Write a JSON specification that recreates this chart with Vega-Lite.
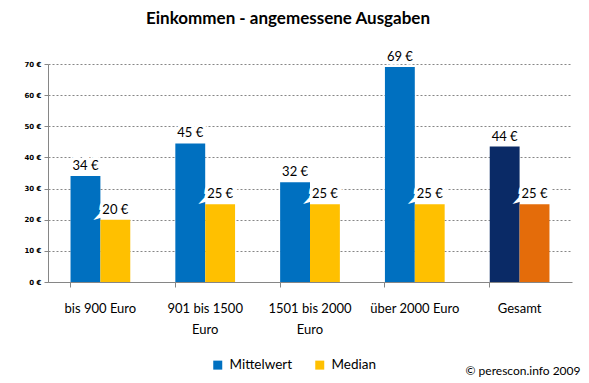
{
  "$schema": "https://vega.github.io/schema/vega-lite/v6.json",
  "autosize": {"type": "none"},
  "padding": {"left": 48, "top": 64, "right": 17, "bottom": 101},
  "width": 524,
  "height": 218,
  "background": "white",
  "config": {
    "view": {"stroke": null},
    "font": "Lato"
  },
  "title": {
    "text": "Einkommen - angemessene Ausgaben",
    "font": "Lato",
    "fontSize": 17,
    "fontWeight": "bold",
    "color": "#000000",
    "anchor": "middle",
    "frame": "group",
    "dx": -22,
    "offset": 23
  },
  "data": {
    "values": [
      {"kategorie": "bis 900 Euro", "serie": "Mittelwert", "wert": 34},
      {"kategorie": "bis 900 Euro", "serie": "Median", "wert": 20},
      {"kategorie": "901 bis 1500 Euro", "serie": "Mittelwert", "wert": 44.5},
      {"kategorie": "901 bis 1500 Euro", "serie": "Median", "wert": 25},
      {"kategorie": "1501 bis 2000 Euro", "serie": "Mittelwert", "wert": 32},
      {"kategorie": "1501 bis 2000 Euro", "serie": "Median", "wert": 25},
      {"kategorie": "über 2000 Euro", "serie": "Mittelwert", "wert": 69},
      {"kategorie": "über 2000 Euro", "serie": "Median", "wert": 25},
      {"kategorie": "Gesamt", "serie": "Mittelwert", "wert": 43.5},
      {"kategorie": "Gesamt", "serie": "Median", "wert": 25}
    ]
  },
  "transform": [
    {"calculate": "datum.kategorie == 'Gesamt' ? datum.serie + ' (Gesamt)' : datum.serie", "as": "farbe"},
    {"calculate": "format(datum.wert, '.0f') + ' €'", "as": "beschriftung"}
  ],
  "encoding": {
    "x": {
      "field": "kategorie",
      "type": "nominal",
      "sort": null,
      "scale": {"paddingInner": 0.43, "paddingOuter": 0.215},
      "axis": {
        "title": "© perescon.info 2009",
        "titleFont": "Lato",
        "titleFontSize": 12,
        "titleFontWeight": "normal",
        "titleColor": "#000000",
        "titleAnchor": "end",
        "titleAlign": "right",
        "titleBaseline": "middle",
        "titleX": 532,
        "titleY": 88,
        "labelAngle": 0,
        "labelFont": "Lato",
        "labelFontSize": 13,
        "labelColor": "#000000",
        "labelPadding": 15,
        "labelLineHeight": 21,
        "labelExpr": "datum.label == '901 bis 1500 Euro' ? ['901 bis 1500', 'Euro'] : datum.label == '1501 bis 2000 Euro' ? ['1501 bis 2000', 'Euro'] : datum.label",
        "bandPosition": 0,
        "tickSize": 5,
        "tickColor": "#868686",
        "domainColor": "#868686",
        "grid": false
      }
    },
    "xOffset": {"field": "serie", "type": "nominal", "sort": ["Mittelwert", "Median"], "scale": {"paddingInner": 0}},
    "y": {
      "field": "wert",
      "type": "quantitative",
      "scale": {"domain": [0, 70], "nice": false},
      "axis": {
        "title": null,
        "values": [0, 10, 20, 30, 40, 50, 60, 70],
        "labelExpr": "datum.value + ' €'",
        "labelFont": "DejaVu Sans",
        "labelFontSize": 7,
        "labelFontWeight": "bold",
        "labelColor": "#000000",
        "labelPadding": 3,
        "tickSize": 4,
        "tickColor": "#868686",
        "domainColor": "#868686",
        "grid": true,
        "gridColor": "#868686",
        "gridDash": [2, 2]
      }
    }
  },
  "layer": [
    {
      "mark": {"type": "bar"},
      "encoding": {
        "color": {
          "field": "farbe",
          "type": "nominal",
          "scale": {
            "domain": ["Mittelwert", "Median", "Mittelwert (Gesamt)", "Median (Gesamt)"],
            "range": ["#0070C0", "#FFC000", "#0A2A66", "#E46C0A"]
          },
          "legend": {
            "title": null,
            "values": ["Mittelwert", "Median"],
            "orient": "none",
            "direction": "horizontal",
            "legendX": 163,
            "legendY": 294,
            "padding": 0,
            "symbolType": "square",
            "symbolSize": 81,
            "symbolStrokeWidth": 0,
            "labelFont": "Lato",
            "labelFontSize": 13.5,
            "labelColor": "#000000",
            "labelOffset": 5,
            "columnPadding": 20
          }
        }
      }
    },
    {
      "mark": {"type": "text", "baseline": "bottom", "dy": -3, "fontSize": 13, "font": "Lato", "fill": "white", "stroke": "white", "strokeWidth": 7},
      "encoding": {"text": {"field": "beschriftung"}}
    },
    {
      "mark": {"type": "text", "baseline": "bottom", "dy": -3, "fontSize": 13, "font": "Lato", "color": "#000000"},
      "encoding": {"text": {"field": "beschriftung"}}
    }
  ]
}
